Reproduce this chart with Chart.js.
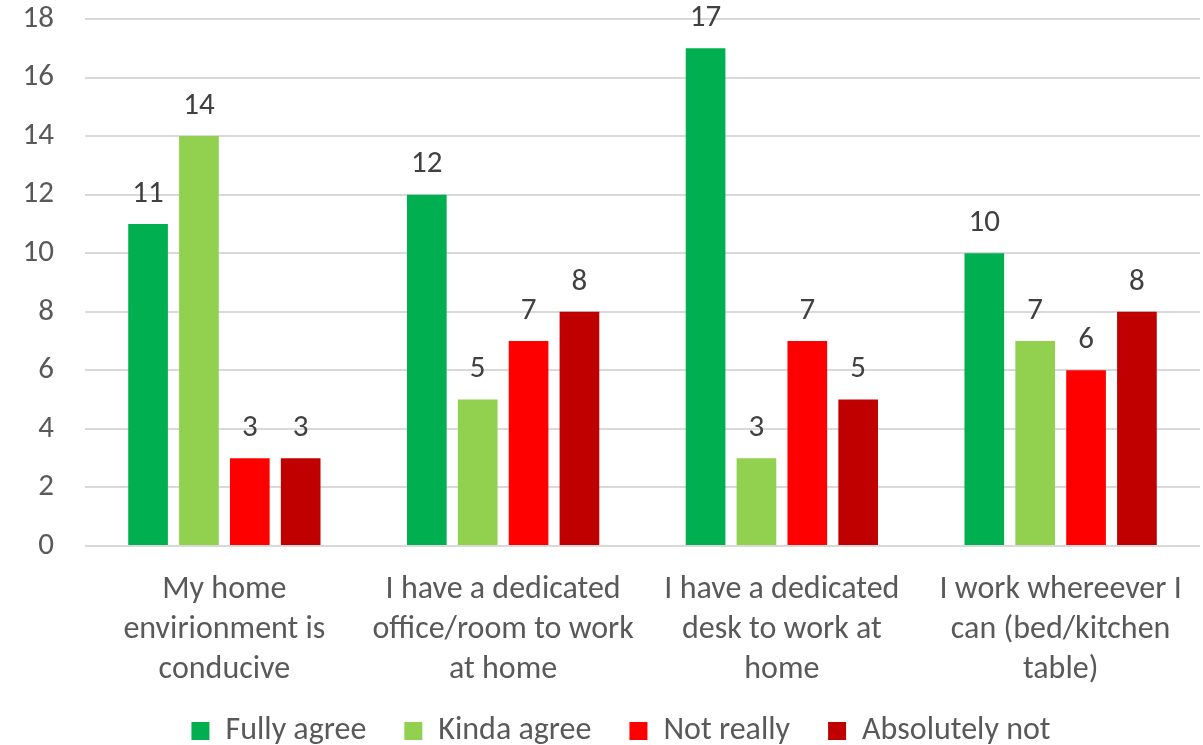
<!DOCTYPE html>
<html>
<head>
<meta charset="utf-8">
<script src="https://cdn.jsdelivr.net/npm/chart.js@4"></script>
<style>
  html, body { margin: 0; padding: 0; background: #fff; }
  #wrap { width: 1203px; height: 745px; }
</style>
</head>
<body>
<div id="wrap"><canvas id="wfh-chart"></canvas></div>
<script>
// survey answers per statement
const categories = [
  ['My home', 'envirionment is', 'conducive'],
  ['I have a dedicated', 'office/room to work', 'at home'],
  ['I have a dedicated', 'desk to work at', 'home'],
  ['I work whereever I', 'can (bed/kitchen', 'table)']
];
const fullyAgree = [11, 12, 17, 10];
const kindaAgree = [14, 5, 3, 7];
const notReally = [3, 7, 7, 6];
const absolutelyNot = [3, 8, 5, 8];
const yTicks = [0, 2, 4, 6, 8, 10, 12, 14, 16, 18];

const textColor = '#595959';
const font = "Calibri, Carlito, 'Open Sans', sans-serif";

// draws the number above each bar, and nudges the legend into place
const valueLabels = {
  id: 'valueLabels',
  beforeLayout(chart) {
    const lg = chart.legend;
    if (lg && !lg._fixed) {
      const fit = lg.fit.bind(lg);
      const drawInner = lg._draw.bind(lg);
      lg.fit = function () { fit(); this.height = 55; };
      lg._draw = function () {
        const c = this.ctx;
        c.save();
        c.translate(21, -13);
        drawInner();
        c.restore();
      };
      lg._fixed = true;
    }
  },
  afterDatasetsDraw(chart) {
    const ctx = chart.ctx;
    ctx.save();
    ctx.font = '31px ' + font;
    ctx.fillStyle = '#404040';
    ctx.textAlign = 'center';
    ctx.textBaseline = 'middle';
    chart.data.datasets.forEach((ds, i) => {
      chart.getDatasetMeta(i).data.forEach((bar, j) => {
        ctx.fillText(ds.data[j], bar.x, bar.y - 30);
      });
    });
    ctx.restore();
  }
};

function makeSet(label, data, color) {
  return {
    label: label,
    data: data,
    backgroundColor: color,
    borderWidth: 0,
    categoryPercentage: 0.73,
    barPercentage: 0.78
  };
}

var ctx = document.getElementById('wfh-chart').getContext('2d');
const config = {
  type: 'bar',
  data: {
    labels: categories,
    datasets: [
      makeSet('Fully agree', fullyAgree, '#00B050'),
      makeSet('Kinda agree', kindaAgree, '#92D050'),
      makeSet('Not really', notReally, '#FF0000'),
      makeSet('Absolutely not', absolutelyNot, '#C00000')
    ]
  },
  options: {
    responsive: true,
    maintainAspectRatio: false,
    animation: false,
    layout: { padding: { top: 3, right: 3, left: 0, bottom: 0 } },
    plugins: {
      legend: {
        position: 'bottom',
        labels: {
          color: textColor,
          font: { size: 32, family: font },
          boxWidth: 18,
          boxHeight: 18,
          padding: 38
        }
      },
      tooltip: { enabled: false }
    },
    scales: {
      x: {
        grid: { display: false },
        border: { display: false },
        afterFit(scale) {
          scale.height = 144;
          scale.paddingLeft = 0;
          scale.paddingRight = 0;
        },
        ticks: {
          color: textColor,
          font: { size: 32, family: font, lineHeight: 1.25 },
          maxRotation: 0,
          autoSkip: false,
          padding: 16
        }
      },
      y: {
        min: 0,
        max: 18,
        afterBuildTicks(axis) {
          axis.ticks = yTicks.map(v => ({ value: v }));
        },
        afterFit(scale) {
          scale.width = 85;
          scale.paddingTop = 19;
          scale.paddingBottom = 0;
        },
        grid: { color: '#d9d9d9', lineWidth: 2, drawTicks: false },
        border: { display: false },
        ticks: {
          color: textColor,
          font: { size: 31, family: font },
          padding: 31
        }
      }
    }
  },
  plugins: [valueLabels]
};
var myChart = new Chart(ctx, config);
</script>
</body>
</html>
